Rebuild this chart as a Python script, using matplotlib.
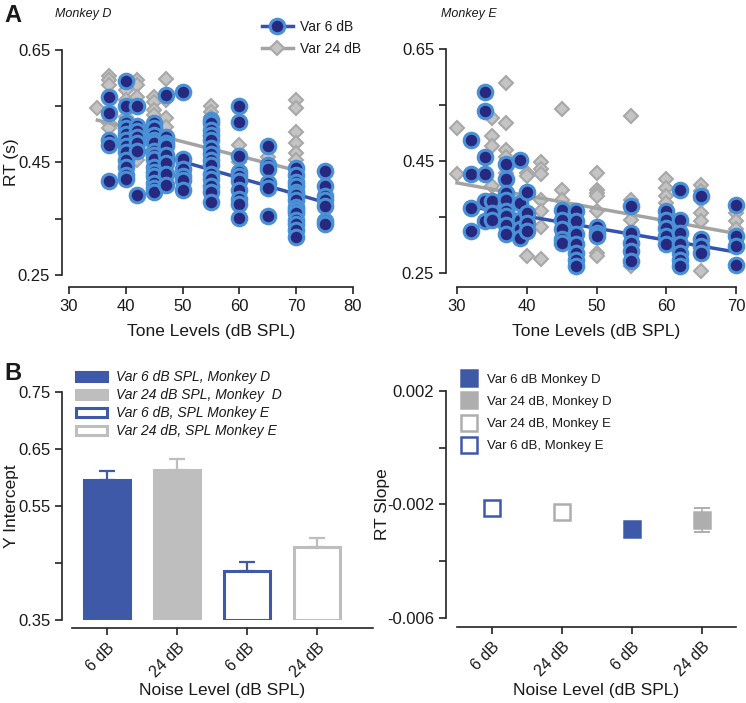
import matplotlib
matplotlib.use("Agg")
import matplotlib.pyplot as plt
import numpy as np
from matplotlib.lines import Line2D
from matplotlib.patches import Patch

plt.rcParams['font.family'] = ['Liberation Sans', 'DejaVu Sans']

# ---------------- Data: panel A (Monkey D) ----------------
d6_levels = [37, 40, 42, 45, 47, 50, 55, 60, 65, 70, 75]
d6_rts = [
    [0.565, 0.537, 0.49, 0.48, 0.416],
    [0.595, 0.549, 0.52, 0.51, 0.50, 0.49, 0.478, 0.469, 0.454, 0.442, 0.428, 0.42],
    [0.549, 0.515, 0.505, 0.495, 0.484, 0.47, 0.392],
    [0.52, 0.51, 0.498, 0.49, 0.484, 0.47, 0.463, 0.455, 0.442, 0.432, 0.425, 0.413, 0.405, 0.398],
    [0.569, 0.495, 0.485, 0.478, 0.463, 0.448, 0.43, 0.41],
    [0.575, 0.455, 0.438, 0.425, 0.419, 0.401],
    [0.525, 0.519, 0.508, 0.498, 0.49, 0.475, 0.465, 0.454, 0.445, 0.43, 0.42, 0.407, 0.398, 0.38],
    [0.55, 0.522, 0.461, 0.433, 0.425, 0.416, 0.401, 0.385, 0.376, 0.351],
    [0.478, 0.445, 0.438, 0.414, 0.404, 0.355],
    [0.44, 0.428, 0.415, 0.407, 0.398, 0.392, 0.383, 0.371, 0.365, 0.36, 0.348, 0.34, 0.33, 0.318],
    [0.435, 0.408, 0.39, 0.383, 0.373, 0.345, 0.34],
]
d24_levels = [35, 37, 40, 42, 45, 47, 55, 60, 65, 70]
d24_rts = [
    [0.546],
    [0.603, 0.596, 0.587, 0.519, 0.51],
    [0.578, 0.56, 0.53],
    [0.596, 0.587, 0.566, 0.454],
    [0.566, 0.557, 0.543, 0.534],
    [0.597, 0.56, 0.528, 0.513],
    [0.549, 0.54, 0.531],
    [0.48, 0.45],
    [0.46, 0.44],
    [0.56, 0.546, 0.504, 0.484, 0.466, 0.454],
]

# ---------------- Data: panel A (Monkey E) ----------------
e6_levels = [32, 34, 35, 37, 39, 40, 45, 47, 50, 55, 60, 62, 65, 70]
e6_rts = [
    [0.488, 0.427, 0.366, 0.325],
    [0.573, 0.539, 0.458, 0.427, 0.378, 0.342],
    [0.378, 0.357, 0.345],
    [0.444, 0.417, 0.393, 0.381, 0.36, 0.351, 0.336, 0.319],
    [0.452, 0.375, 0.345, 0.328, 0.313],
    [0.394, 0.357, 0.339, 0.325],
    [0.363, 0.345, 0.328, 0.31, 0.304],
    [0.36, 0.342, 0.319, 0.301, 0.286, 0.274, 0.262],
    [0.333, 0.322, 0.316],
    [0.369, 0.322, 0.304, 0.289, 0.271],
    [0.36, 0.345, 0.33, 0.316, 0.301],
    [0.399, 0.345, 0.322, 0.301, 0.286, 0.274, 0.262],
    [0.387, 0.31, 0.298, 0.286],
    [0.372, 0.316, 0.298, 0.265],
]
e24_levels = [30, 35, 37, 40, 42, 45, 50, 55, 60, 65, 70]
e24_rts = [
    [0.509, 0.426],
    [0.527, 0.494, 0.476, 0.405],
    [0.59, 0.517, 0.47, 0.458, 0.429],
    [0.429, 0.423, 0.28],
    [0.449, 0.435, 0.426, 0.381, 0.36, 0.333, 0.275],
    [0.543, 0.399, 0.381],
    [0.429, 0.399, 0.393, 0.387, 0.36, 0.286, 0.28],
    [0.53, 0.381, 0.345, 0.262],
    [0.417, 0.402, 0.387, 0.375, 0.351],
    [0.408, 0.396, 0.381, 0.357, 0.342, 0.253],
    [0.357, 0.342, 0.328],
]

# ---------------- Data: panel B ----------------
bar_labels = ['6 dB', '24 dB', '6 dB', '24 dB']
intercept_names = ['Var 6 dB SPL, Monkey D', 'Var 24 dB SPL, Monkey  D',
                   'Var 6 dB, SPL Monkey E', 'Var 24 dB, SPL Monkey E']
intercepts = [0.595, 0.614, 0.4365, 0.4787]      # D6, D24, E6, E24
intercept_err = [0.016, 0.019, 0.0155, 0.0155]

slope_names = ['Var 6 dB, Monkey E', 'Var 24 dB, Monkey E',
               'Var 6 dB Monkey D', 'Var 24 dB, Monkey D']
slopes = [-0.00213, -0.00226, -0.00288, -0.00255]   # E6, E24, D6, D24
slope_err = [0.0001, 0.00012, 0.0001, 0.00042]

# ---------------- Styling ----------------
NAVY = '#26297F'
LIGHTBLUE = '#4A90D6'
BLUELINE = '#3452B0'
GRAYFILL = '#C4C4C4'
GRAYEDGE = '#A8A8A8'
GRAYLINE = '#A3A3A3'
BARBLUE = '#3E59A8'
BARGRAY = '#BEBEBE'
TXT = '#1a1a1a'

fig = plt.figure(figsize=(7.46, 7.03), dpi=100)
W, H = 746, 703
PT = 72 / 100.0   # points per pixel

def ax_px(x0, x1, ytop, ybot):
    return fig.add_axes([x0 / W, 1 - ybot / H, (x1 - x0) / W, (ybot - ytop) / H])

def style(ax, out_x_px, out_y_px):
    for s in ['top', 'right']:
        ax.spines[s].set_visible(False)
    ax.spines['bottom'].set_position(('outward', out_x_px * PT))
    ax.spines['left'].set_position(('outward', out_y_px * PT))
    for s in ['bottom', 'left']:
        ax.spines[s].set_linewidth(1.2)
        ax.spines[s].set_color('#222222')
    ax.tick_params(width=1.2, length=5, labelsize=12, color='#222222', labelcolor=TXT)
    ax.set_facecolor('none')

def set_xlabel_px(ax, text, y_top):
    ax.set_xlabel(text, fontsize=12.5, color=TXT)
    x_mid = (ax.get_position().x0 + ax.get_position().x1) / 2
    ax.xaxis.set_label_coords(x_mid, 1 - y_top / H, transform=fig.transFigure)

def set_ylabel_px(ax, text, x_right):
    ax.set_ylabel(text, fontsize=12.5, color=TXT)
    y_mid = (ax.get_position().y0 + ax.get_position().y1) / 2
    ax.yaxis.set_label_coords(x_right / W, y_mid, transform=fig.transFigure)

def flat(levels, rts):
    xs, ys = [], []
    for lv, vals in zip(levels, rts):
        xs += [lv] * len(vals)
        ys += list(vals)
    return np.array(xs, float), np.array(ys, float)

def scatter_panel(ax, l6, r6, l24, r24, b6, m6, b24, m24):
    x6, y6 = flat(l6, r6)
    x24, y24 = flat(l24, r24)
    ax.plot(x24, y24, 'D', ms=7.5, mfc=GRAYFILL, mec=GRAYEDGE, mew=1.5, ls='none',
            zorder=2, clip_on=False)
    xx = np.array([x24.min(), x24.max()])
    ax.plot(xx, b24 + m24 * xx, color=GRAYLINE, lw=2.5, zorder=3, clip_on=False)
    xx = np.array([x6.min(), x6.max()])
    ax.plot(xx, b6 + m6 * xx, color=BLUELINE, lw=2.5, zorder=4, clip_on=False)
    ax.plot(x6, y6, 'o', ms=10.5, mfc=NAVY, mec=LIGHTBLUE, mew=2.2, ls='none',
            zorder=5, clip_on=False)

# ---- Top-left: Monkey D
axA1 = ax_px(69, 353, 49.5, 275)
scatter_panel(axA1, d6_levels, d6_rts, d24_levels, d24_rts,
              intercepts[0], slopes[2], intercepts[1], slopes[3])
axA1.set_xlim(30, 80)
axA1.set_ylim(0.25, 0.65)
style(axA1, 12, 7)
axA1.set_xticks([30, 40, 50, 60, 70, 80])
axA1.set_yticks([0.25, 0.35, 0.45, 0.55, 0.65])
axA1.set_yticklabels(['0.25', '', '0.45', '', '0.65'])
set_xlabel_px(axA1, 'Tone Levels (dB SPL)', 324)
set_ylabel_px(axA1, 'RT (s)', 19)
leg_handles = [
    Line2D([], [], color=BLUELINE, lw=2.5, marker='o', ms=10.5, mfc=NAVY, mec=LIGHTBLUE, mew=2.2),
    Line2D([], [], color=GRAYLINE, lw=2.5, marker='D', ms=7.5, mfc=GRAYFILL, mec=GRAYEDGE, mew=1.5),
]
axA1.legend(leg_handles, ['Var 6 dB', 'Var 24 dB'], loc='upper left',
            bbox_to_anchor=((262 - 69) / (353 - 69), 1 + 30 / 225.5), frameon=False,
            fontsize=10, handlelength=2.2, handletextpad=0.5, labelspacing=0.6,
            borderaxespad=0, borderpad=0, labelcolor=TXT)

# ---- Top-right: Monkey E
axA2 = ax_px(457, 736, 49, 273)
scatter_panel(axA2, e6_levels, e6_rts, e24_levels, e24_rts,
              intercepts[2], slopes[0], intercepts[3], slopes[1])
axA2.set_xlim(30, 70)
axA2.set_ylim(0.25, 0.65)
style(axA2, 14, 11)
axA2.set_xticks([30, 40, 50, 60, 70])
axA2.set_yticks([0.25, 0.35, 0.45, 0.55, 0.65])
axA2.set_yticklabels(['0.25', '', '0.45', '', '0.65'])
set_xlabel_px(axA2, 'Tone Levels (dB SPL)', 324)

# ---- Bottom-left: intercepts
axB1 = ax_px(72, 373, 392, 620)
xpos = np.arange(len(bar_labels))
base = 0.35
faces = [BARBLUE, BARGRAY, 'white', 'white']
edges = [BARBLUE, BARGRAY, BARBLUE, BARGRAY]
for i in range(4):
    axB1.bar(xpos[i], intercepts[i] - base, bottom=base, width=0.67,
             color=faces[i], edgecolor=edges[i], linewidth=2.2, zorder=3)
    axB1.errorbar(xpos[i], intercepts[i], yerr=[[0], [intercept_err[i]]],
                  color=edges[i], capsize=6, elinewidth=1.6, capthick=1.6, zorder=2)
axB1.set_xlim(-0.5, 3.8)
axB1.set_ylim(0.35, 0.75)
style(axB1, 8, 10)
axB1.set_yticks([0.35, 0.45, 0.55, 0.65, 0.75])
axB1.set_yticklabels(['0.35', '', '0.55', '0.65', '0.75'])
axB1.set_xticks(xpos)
axB1.set_xticklabels(bar_labels, rotation=45, ha='right', rotation_mode='anchor', fontsize=11.5)
set_xlabel_px(axB1, 'Noise Level (dB SPL)', 683)
set_ylabel_px(axB1, 'Y Intercept', 19)
bar_handles = [Patch(facecolor=faces[i], edgecolor=edges[i], linewidth=2.2) for i in range(4)]
axB1.legend(bar_handles, intercept_names, loc='upper left',
            bbox_to_anchor=((76 - 72) / 301, 1 + 22 / 228), frameon=False,
            prop={'style': 'italic', 'size': 10}, handlelength=2.2, handleheight=0.6,
            handletextpad=0.7, labelspacing=0.3, borderaxespad=0, borderpad=0,
            labelcolor=TXT)

# ---- Bottom-right: slopes
axB2 = ax_px(457, 736, 390.7, 618)
mfaces = ['white', 'white', BARBLUE, '#AEAEAE']
medges = [BARBLUE, '#AEAEAE', BARBLUE, '#AEAEAE']
for i in range(4):
    axB2.errorbar(xpos[i], slopes[i], yerr=slope_err[i], fmt='none',
                  color=medges[i], capsize=6, elinewidth=1.2, capthick=1.4, zorder=2)
    axB2.plot(xpos[i], slopes[i], marker='s', ls='none', ms=11.5,
              mfc=mfaces[i], mec=medges[i], mew=1.8, zorder=3)
axB2.set_xlim(-0.5, 3.49)
axB2.set_ylim(-0.006, 0.002)
style(axB2, 9, 11)
axB2.set_yticks([-0.006, -0.004, -0.002, 0.0, 0.002])
axB2.set_yticklabels(['-0.006', '', '-0.002', '', '0.002'])
axB2.set_xticks(xpos)
axB2.set_xticklabels(bar_labels, rotation=45, ha='right', rotation_mode='anchor', fontsize=11.5)
set_xlabel_px(axB2, 'Noise Level (dB SPL)', 683)
set_ylabel_px(axB2, 'RT Slope', 390)
order = [2, 3, 1, 0]
sq_handles = [Line2D([], [], marker='s', ls='none', ms=11.5, mfc=mfaces[i], mec=medges[i], mew=1.8)
              for i in order]
axB2.legend(sq_handles, [slope_names[i] for i in order], loc='upper left',
            bbox_to_anchor=((462 - 457) / 279, 1 + 17 / 227), frameon=False,
            fontsize=9.5, handlelength=1.0, handletextpad=0.9, labelspacing=0.75,
            borderaxespad=0, borderpad=0, labelcolor=TXT)

# ---- Panel labels and titles
fig.text(4 / W, 1 - 15 / H, 'A', fontsize=17, fontweight='bold', va='center', ha='left', color=TXT)
fig.text(4 / W, 1 - 373 / H, 'B', fontsize=17, fontweight='bold', va='center', ha='left', color=TXT)
fig.text(55 / W, 1 - 14 / H, 'Monkey D', fontsize=9, style='italic', va='center', ha='left', color=TXT)
fig.text(441 / W, 1 - 14 / H, 'Monkey E', fontsize=9, style='italic', va='center', ha='left', color=TXT)

fig.savefig('out.png', dpi=100)
